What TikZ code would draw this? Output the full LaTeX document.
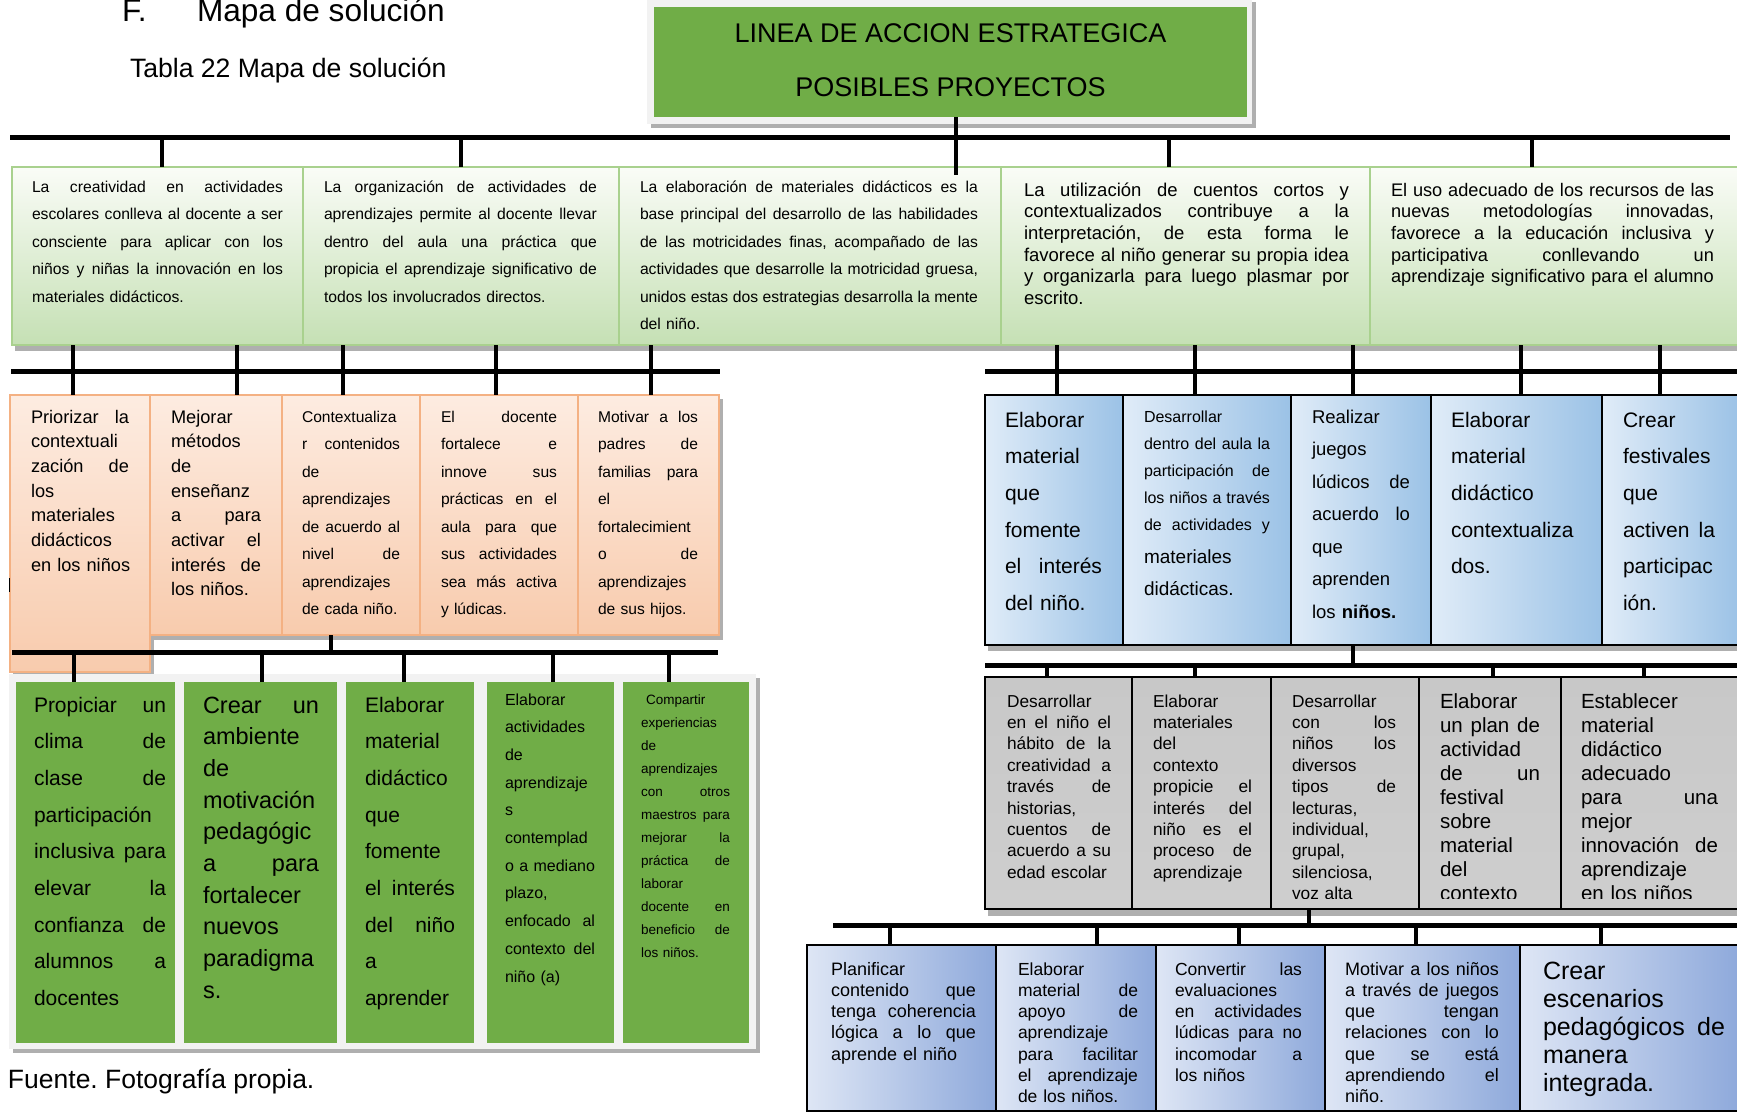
\documentclass[tikz,border=0pt]{standalone}
\usepackage{fontspec}
\setmainfont{Liberation Sans}
\usetikzlibrary{calc}
\frenchspacing
\definecolor{tgreen}{RGB}{112,173,71}
\definecolor{framegray}{RGB}{242,242,242}
\definecolor{shadowgray}{RGB}{175,175,175}
\definecolor{ltop}{RGB}{250,252,247}
\definecolor{lbot}{RGB}{197,224,180}
\definecolor{lborder}{RGB}{169,209,142}
\definecolor{ptop}{RGB}{253,236,225}
\definecolor{pbot}{RGB}{248,203,173}
\definecolor{pborder}{RGB}{244,177,131}
\definecolor{bleft}{RGB}{224,236,248}
\definecolor{bright}{RGB}{155,194,230}
\definecolor{gtop}{RGB}{200,200,200}
\definecolor{gmid}{RGB}{158,158,158}
\definecolor{gbot}{RGB}{206,206,206}
\definecolor{cleft}{RGB}{222,230,245}
\definecolor{cright}{RGB}{142,169,219}
\newcommand\fs[2]{\fontsize{#1}{#2}\selectfont}
\newcommand\Jl[1]{\hbox to \hsize{\spaceskip=0.278em plus 1fil\xspaceskip=0.278em plus 1fil\relax #1}}
\newcommand\Ll[1]{\hbox to \hsize{#1\hfil}}
\newcommand\mybox[6]{\node[#1, anchor=north west, minimum width={#5pt-#3pt}, minimum height={#6pt-#4pt}] (#2) at (#3,#4) {};}
\newcommand\mytext[6]{\node[txt, text width=#4pt, font=#5] (#1) at (#2,#3) {#6};}
\hbadness=10000 \vbadness=10000 \hfuzz=30pt
\tikzset{
  txt/.style={anchor=base west, inner sep=0pt, outer sep=0pt},
  plain/.style={inner sep=0pt, outer sep=0pt},
  tgbox/.style={plain, fill=tgreen},
  r1box/.style={plain, draw=lborder, line width=2.5pt, top color=ltop, bottom color=lbot},
  pbox/.style={plain, draw=pborder, line width=2.5pt, top color=ptop, bottom color=pbot},
  bbox/.style={plain, draw=black, line width=2pt, left color=bleft, right color=bright},
  grbox/.style={plain, draw=black, line width=2pt, top color=gtop, middle color=gmid, bottom color=gbot},
  cbox/.style={plain, draw=black, line width=2pt, left color=cleft, right color=cright},
  gbox/.style={plain, fill=tgreen},
  bar/.style={line width=5pt},
  tick/.style={line width=4.5pt},
  shadow/.style={fill=shadowgray},
}
\begin{document}
\begin{tikzpicture}[x=1pt,y=-1pt]
\useasboundingbox (0,0) rectangle (1737,1113);
% ---------- heading
\node[txt, font=\fs{31.6}{36}] (fhead) at (122,22) {F.};
\node[txt, font=\fs{31.6}{36}] (mhead) at (197,22) {Mapa de solución};
\node[txt, font=\fs{26.6}{30}] (tabla) at (130,77.5) {Tabla 22 Mapa de solución};
% ---------- title
\fill[shadow] (651,2) rectangle (1256,128);
\fill[framegray] (647,-2) rectangle (1252,124);
\mybox{tgbox}{title}{654}{7}{1247}{117}
\node[anchor=base, plain, font=\fs{27}{30}] (tl1) at (950.5,43) {LINEA DE ACCION ESTRATEGICA};
\node[anchor=base, plain, font=\fs{27}{30}] (tl2) at (950.5,97) {POSIBLES PROYECTOS};
% ---------- row 1
\fill[shadow] (15,172) rectangle (1739,351);
\mybox{r1box}{r1a}{12}{167}{303}{345}
\mybox{r1box}{r1b}{303}{167}{619}{345}
\mybox{r1box}{r1c}{619}{167}{1001}{345}
\mybox{r1box}{r1d}{1001}{167}{1370}{345}
\mybox{r1box}{r1e}{1370}{167}{1740}{345}
\mytext{t1a}{32}{192}{251}{\fs{15.7}{27.6}}{%
\Jl{La creatividad en actividades}
\Jl{escolares conlleva al docente a ser}
\Jl{consciente para aplicar con los}
\Jl{niños y niñas la innovación en los}
\Ll{materiales didácticos.}}
\mytext{t1b}{324}{192}{273}{\fs{15.7}{27.6}}{%
\Jl{La organización de actividades de}
\Jl{aprendizajes permite al docente llevar}
\Jl{dentro del aula una práctica que}
\Jl{propicia el aprendizaje significativo de}
\Ll{todos los involucrados directos.}}
\mytext{t1c}{640}{192}{338}{\fs{15.7}{27.6}}{%
\Jl{La elaboración de materiales didácticos es la}
\Jl{base principal del desarrollo de las habilidades}
\Jl{de las motricidades finas, acompañado de las}
\Jl{actividades que desarrolle la motricidad gruesa,}
\Jl{unidos estas dos estrategias desarrolla la mente}
\Ll{del niño.}}
\mytext{t1d}{1024}{196}{325}{\fs{18.5}{21.7}}{%
\Jl{La utilización de cuentos cortos y}
\Jl{contextualizados contribuye a la}
\Jl{interpretación, de esta forma le}
\Jl{favorece al niño generar su propia idea}
\Jl{y organizarla para luego plasmar por}
\Ll{escrito.}}
\mytext{t1e}{1391}{196}{323}{\fs{18.2}{21.7}}{%
\Jl{El uso adecuado de los recursos de las}
\Jl{nuevas metodologías innovadas,}
\Jl{favorece a la educación inclusiva y}
\Jl{participativa conllevando un}
\Ll{aprendizaje significativo para el alumno}}
% ---------- row 2 left (peach)
\fill[shadow] (13,399) rectangle (723,640);
\fill[shadow] (13,640) rectangle (154,676);
\mybox{pbox}{p1}{10}{395}{150}{672}
\mybox{pbox}{p2}{150}{395}{282}{635}
\mybox{pbox}{p3}{282}{395}{420}{635}
\mybox{pbox}{p4}{420}{395}{578}{635}
\mybox{pbox}{p5}{578}{395}{719}{635}
\mytext{tp1}{31}{423}{98}{\fs{18.2}{24.7}}{%
\Jl{Priorizar la}
\Ll{contextuali}
\Jl{zación de}
\Ll{los}
\Ll{materiales}
\Ll{didácticos}
\Ll{en los niños}}
\mytext{tp2}{171}{423}{90}{\fs{18.2}{24.7}}{%
\Ll{Mejorar}
\Ll{métodos}
\Ll{de}
\Ll{enseñanz}
\Jl{a para}
\Jl{activar el}
\Jl{interés de}
\Ll{los niños.}}
\mytext{tp3}{302}{422}{98}{\fs{15.6}{27.5}}{%
\Ll{Contextualiza}
\Jl{r contenidos}
\Ll{de}
\Ll{aprendizajes}
\Jl{de acuerdo al}
\Jl{nivel de}
\Ll{aprendizajes}
\Ll{de cada niño.}}
\mytext{tp4}{441}{422}{116}{\fs{15.6}{27.5}}{%
\Jl{El docente}
\Jl{fortalece e}
\Jl{innove sus}
\Jl{prácticas en el}
\Jl{aula para que}
\Jl{sus actividades}
\Jl{sea más activa}
\Ll{y lúdicas.}}
\mytext{tp5}{598}{422}{100}{\fs{15.6}{27.5}}{%
\Jl{Motivar a los}
\Jl{padres de}
\Jl{familias para}
\Ll{el}
\Ll{fortalecimient}
\Jl{o de}
\Ll{aprendizajes}
\Ll{de sus hijos.}}
% ---------- row 2 right (blue)
\fill[shadow] (988,399) rectangle (1739,651);
\mybox{bbox}{bl1}{985}{395}{1123}{645}
\mybox{bbox}{bl2}{1123}{395}{1291}{645}
\mybox{bbox}{bl3}{1291}{395}{1431}{645}
\mybox{bbox}{bl4}{1431}{395}{1602}{645}
\mybox{bbox}{bl5}{1602}{395}{1740}{645}
\mytext{tb1}{1005}{427}{97}{\fs{21}{36.7}}{%
\Ll{Elaborar}
\Ll{material}
\Ll{que}
\Ll{fomente}
\Jl{el interés}
\Ll{del niño.}}
\mytext{tb2a}{1144}{422}{126}{\fs{16}{27}}{%
\Ll{Desarrollar}
\Jl{dentro del aula la}
\Jl{participación de}
\Jl{los niños a través}
\Jl{de actividades y}}
\mytext{tb2b}{1144}{563}{126}{\fs{19}{32}}{%
\Ll{materiales}
\Ll{didácticas.}}
\mytext{tb3}{1312}{423}{98}{\fs{18.5}{32.5}}{%
\Ll{Realizar}
\Ll{juegos}
\Jl{lúdicos de}
\Jl{acuerdo lo}
\Ll{que}
\Ll{aprenden}
\Ll{los \textbf{niños.}}}
\mytext{tb4}{1451}{427}{124}{\fs{21}{36.7}}{%
\Ll{Elaborar}
\Ll{material}
\Ll{didáctico}
\Ll{contextualiza}
\Ll{dos.}}
\mytext{tb5}{1623}{427}{92}{\fs{21}{36.7}}{%
\Ll{Crear}
\Ll{festivales}
\Ll{que}
\Jl{activen la}
\Ll{participac}
\Ll{ión.}}
% ---------- row 3 right (gray)
\fill[shadow] (988,681) rectangle (1739,916);
\mybox{grbox}{gr1}{985}{677}{1132}{909}
\mybox{grbox}{gr2}{1132}{677}{1271}{909}
\mybox{grbox}{gr3}{1271}{677}{1419}{909}
\mybox{grbox}{gr4}{1419}{677}{1561}{909}
\mybox{grbox}{gr5}{1561}{677}{1740}{909}
\begin{scope}
\clip (985,677) rectangle (1737,898);
\mytext{tg1}{1007}{707}{104}{\fs{17.3}{21.4}}{%
\Ll{Desarrollar}
\Jl{en el niño el}
\Jl{hábito de la}
\Jl{creatividad a}
\Jl{través de}
\Ll{historias,}
\Jl{cuentos de}
\Jl{acuerdo a su}
\Ll{edad escolar}}
\mytext{tg2}{1153}{707}{99}{\fs{17.3}{21.4}}{%
\Ll{Elaborar}
\Ll{materiales}
\Ll{del}
\Ll{contexto}
\Jl{propicie el}
\Jl{interés del}
\Jl{niño es el}
\Jl{proceso de}
\Ll{aprendizaje}}
\mytext{tg3}{1292}{707}{104}{\fs{17.3}{21.4}}{%
\Ll{Desarrollar}
\Jl{con los}
\Jl{niños los}
\Ll{diversos}
\Jl{tipos de}
\Ll{lecturas,}
\Ll{individual,}
\Ll{grupal,}
\Ll{silenciosa,}
\Ll{voz alta}}
\mytext{tg4}{1440}{708}{100}{\fs{20.5}{24}}{%
\Ll{Elaborar}
\Jl{un plan de}
\Ll{actividad}
\Jl{de un}
\Ll{festival}
\Ll{sobre}
\Ll{material}
\Ll{del}
\Ll{contexto}}
\mytext{tg5}{1581}{708}{137}{\fs{20.5}{24}}{%
\Ll{Establecer}
\Ll{material}
\Ll{didáctico}
\Ll{adecuado}
\Jl{para una}
\Ll{mejor}
\Jl{innovación de}
\Ll{aprendizaje}
\Ll{en los niños}}
\end{scope}
% ---------- row 3 left (green)
\fill[shadow] (13,678) rectangle (760,1053);
\fill[framegray] (9,674) rectangle (756,1049);
\mybox{gbox}{g1}{16}{682}{175}{1043}
\mybox{gbox}{g2}{184}{682}{337}{1043}
\mybox{gbox}{g3}{346}{682}{474}{1043}
\mybox{gbox}{g4}{487}{682}{614}{1043}
\mybox{gbox}{g5}{623}{682}{749}{1043}
\mytext{tgr1}{34}{712}{132}{\fs{21}{36.7}}{%
\Jl{Propiciar un}
\Jl{clima de}
\Jl{clase de}
\Ll{participación}
\Jl{inclusiva para}
\Jl{elevar la}
\Jl{confianza de}
\Jl{alumnos a}
\Ll{docentes}}
\mytext{tgr2}{203}{713}{116}{\fs{23.5}{31.7}}{%
\Jl{Crear un}
\Ll{ambiente}
\Ll{de}
\Ll{motivación}
\Ll{pedagógic}
\Jl{a para}
\Ll{fortalecer}
\Ll{nuevos}
\Ll{paradigma}
\Ll{s.}}
\mytext{tgr3}{365}{712}{90}{\fs{21}{36.7}}{%
\Ll{Elaborar}
\Ll{material}
\Ll{didáctico}
\Ll{que}
\Ll{fomente}
\Jl{el interés}
\Jl{del niño}
\Ll{a}
\Ll{aprender}}
\mytext{tgr4}{505}{705}{90}{\fs{16}{27.7}}{%
\Ll{Elaborar}
\Ll{actividades}
\Ll{de}
\Ll{aprendizaje}
\Ll{s}
\Ll{contemplad}
\Jl{o a mediano}
\Ll{plazo,}
\Jl{enfocado al}
\Jl{contexto del}
\Ll{niño (a)}}
\mytext{tgr5}{641}{704}{89}{\fs{13.5}{23}}{%
\Ll{\hspace*{5pt}Compartir}
\Ll{experiencias}
\Ll{de}
\Ll{aprendizajes}
\Jl{con otros}
\Jl{maestros para}
\Jl{mejorar la}
\Jl{práctica de}
\Ll{laborar}
\Jl{docente en}
\Jl{beneficio de}
\Ll{los niños.}}
\node[txt, font=\fs{26.5}{30}] (fuente) at (8,1088) {Fuente. Fotografía propia.};
% ---------- row 4 right (blue)
\mybox{cbox}{c1}{807}{945}{996}{1111}
\mybox{cbox}{c2}{996}{945}{1156}{1111}
\mybox{cbox}{c3}{1156}{945}{1325}{1111}
\mybox{cbox}{c4}{1325}{945}{1520}{1111}
\mybox{cbox}{c5}{1520}{945}{1740}{1111}
\mytext{tc1}{831}{975}{145}{\fs{18}{21.3}}{%
\Ll{Planificar}
\Jl{contenido que}
\Jl{tenga coherencia}
\Jl{lógica a lo que}
\Ll{aprende el niño}}
\mytext{tc2}{1018}{975}{120}{\fs{17.5}{21.3}}{%
\Ll{Elaborar}
\Jl{material de}
\Jl{apoyo de}
\Ll{aprendizaje}
\Jl{para facilitar}
\Jl{el aprendizaje}
\Ll{de los niños.}}
\mytext{tc3}{1175}{975}{127}{\fs{17.5}{21.3}}{%
\Jl{Convertir las}
\Ll{evaluaciones}
\Jl{en actividades}
\Jl{lúdicas para no}
\Jl{incomodar a}
\Ll{los niños}}
\mytext{tc4}{1345}{975}{154}{\fs{18}{21.3}}{%
\Jl{Motivar a los niños}
\Jl{a través de juegos}
\Jl{que tengan}
\Jl{relaciones con lo}
\Jl{que se está}
\Jl{aprendiendo el}
\Ll{niño.}}
\mytext{tc5}{1543}{979}{182}{\fs{25}{28}}{%
\Ll{Crear}
\Ll{escenarios}
\Jl{pedagógicos de}
\Ll{manera}
\Ll{integrada.}}
% ---------- connectors
% bar 1
\coordinate (b1L) at (10,137.5);
\coordinate (b1R) at (1730,137.5);
\draw[bar] (b1L) -- (b1R);
\coordinate (td) at (956,175);
\draw[tick] (td |- title.south) -- (td);
\foreach \n/\x/\b in {1/162/r1a, 2/461/r1b, 3/1169/r1d, 4/1532/r1e}{
  \coordinate (b1t\n) at (\x,137.5);
  \draw[tick] (b1t\n) -- (b1t\n |- \b.north);
}
% bar 2 left
\coordinate (b2L) at (11,371);
\coordinate (b2R) at (720,371);
\draw[bar] (b2L) -- (b2R);
\foreach \n/\x/\a/\b in {1/73/r1a/p1, 2/237/r1a/p2, 3/343/r1b/p3, 4/496/r1b/p4, 5/651/r1c/p5}{
  \coordinate (b2t\n) at (\x,371);
  \draw[tick] (b2t\n |- \a.south) -- (b2t\n |- \b.north);
}
% bar 2 right
\coordinate (b2rL) at (985,371);
\coordinate (b2rR) at (1737,371);
\draw[bar] (b2rL) -- (b2rR);
\foreach \n/\x/\a/\b in {1/1057/r1d/bl1, 2/1195/r1d/bl2, 3/1353/r1d/bl3, 4/1521/r1e/bl4, 5/1660/r1e/bl5}{
  \coordinate (b2rt\n) at (\x,371);
  \draw[tick] (b2rt\n |- \a.south) -- (b2rt\n |- \b.north);
}
% bar 3 left
\coordinate (b3L) at (12,652);
\coordinate (b3R) at (718,652);
\coordinate (b3c) at (331,652);
\draw[tick] (b3c |- p3.south) -- (b3c);
\draw[bar] (b3L) -- (b3R);
\foreach \n/\x/\b in {1/74/g1, 2/262/g2, 3/404/g3, 4/553/g4, 5/669/g5}{
  \coordinate (b3t\n) at (\x,652);
  \draw[tick] (b3t\n) -- (b3t\n |- \b.north);
}
% bar 3 right
\coordinate (b3rL) at (985,665);
\coordinate (b3rR) at (1737,665);
\coordinate (b3rc) at (1353,665);
\draw[tick] (b3rc |- bl3.south) -- (b3rc);
\draw[bar] (b3rL) -- (b3rR);
\foreach \n/\x/\b in {1/1047/gr1, 2/1195/gr2, 3/1493/gr4, 4/1644/gr5}{
  \coordinate (b3rt\n) at (\x,665);
  \draw[tick] (b3rt\n) -- (b3rt\n |- \b.north);
}
% bar 4
\coordinate (b4L) at (833,925);
\coordinate (b4R) at (1737,925);
\coordinate (b4c) at (1309,925);
\draw[tick] (b4c |- gr3.south) -- (b4c);
\draw[bar] (b4L) -- (b4R);
\foreach \n/\x/\b in {1/890/c1, 2/1097/c2, 3/1239/c3, 4/1416/c4, 5/1601/c5}{
  \coordinate (b4t\n) at (\x,925);
  \draw[tick] (b4t\n) -- (b4t\n |- \b.north);
}
% small mark at left
\coordinate (mk1) at (9.5,578);
\coordinate (mk2) at (9.5,592);
\draw[line width=1.5pt] (mk1) -- (mk2);
\end{tikzpicture}
\end{document}
